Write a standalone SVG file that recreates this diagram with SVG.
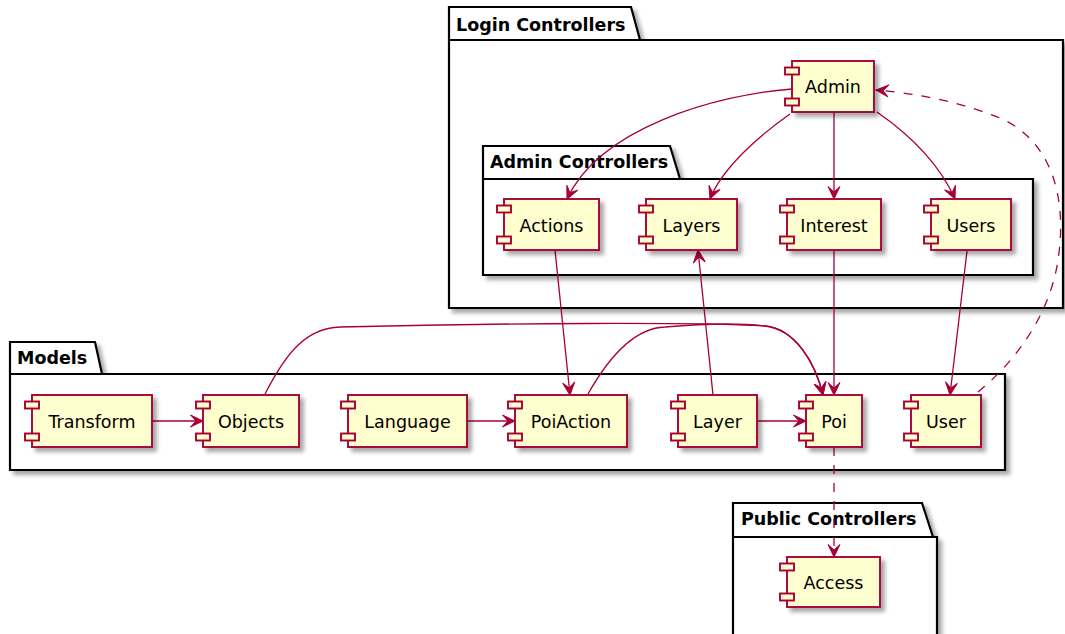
<svg xmlns="http://www.w3.org/2000/svg" width="1065" height="634" viewBox="0 0 1065 634">
<defs>
<style>
.pkg{fill:#FFFFFF;stroke:#000000;stroke-width:2.2;filter:url(#sh)}
.pkgl{fill:none;stroke:#000000;stroke-width:2.2}
.pt{font-family:"DejaVu Sans",Verdana,sans-serif;font-weight:bold;font-size:17.5px;fill:#000000}
.body{fill:#FEFECE;stroke:#A80036;stroke-width:1.9;filter:url(#sh)}
.nub{fill:#FEFECE;stroke:#A80036;stroke-width:1.9}
.nt{font-family:"DejaVu Sans",Verdana,sans-serif;font-size:17.5px;fill:#000000;text-anchor:middle}
.e{fill:none;stroke:#A80036;stroke-width:1.3;marker-end:url(#arr)}
.d{stroke-dasharray:9,9}
</style>
<filter id="sh" x="-10%" y="-10%" width="130%" height="140%">
<feGaussianBlur in="SourceAlpha" stdDeviation="2"/>
<feOffset dx="4" dy="4" result="o"/>
<feComponentTransfer><feFuncA type="linear" slope="0.35"/></feComponentTransfer>
<feMerge><feMergeNode/><feMergeNode in="SourceGraphic"/></feMerge>
</filter>
<marker id="arr" viewBox="-14 -7 15 14" refX="0" refY="0" markerWidth="15" markerHeight="14" markerUnits="userSpaceOnUse" orient="auto">
<path d="M0,0 L-12.5,-6 L-7,0 L-12.5,6 Z" fill="#A80036" stroke="#A80036" stroke-width="1"/>
</marker>
</defs>
<rect width="1065" height="634" fill="#FFFFFF"/>

<g id="pkg-login">
<path class="pkg" d="M449,7 L631,7 L640,40 L1063,40 L1063,308 L449,308 Z"/>
<line class="pkgl" x1="449" y1="40" x2="640" y2="40"/>
<text class="pt" x="456" y="31">Login Controllers</text>
</g>
<g id="pkg-admin">
<path class="pkg" d="M483,146 L670,146 L680,179 L1033,179 L1033,275 L483,275 Z"/>
<line class="pkgl" x1="483" y1="179" x2="680" y2="179"/>
<text class="pt" x="490" y="168">Admin Controllers</text>
</g>
<g id="pkg-models">
<path class="pkg" d="M10,342 L95,342 L102,374 L1005,374 L1005,470 L10,470 Z"/>
<line class="pkgl" x1="10" y1="374" x2="102" y2="374"/>
<text class="pt" x="17" y="364">Models</text>
</g>
<g id="pkg-public">
<path class="pkg" d="M733,503 L922,503 L933,537 L937,537 L937,650 L733,650 Z"/>
<line class="pkgl" x1="733" y1="537" x2="933" y2="537"/>
<text class="pt" x="741" y="525">Public Controllers</text>
</g>

<g id="connectors">
<path class="e" d="M792,89 C715,95 600,128 567,199"/>
<path class="e" d="M790,114 C760,135 722,168 710,199"/>
<path class="e" d="M834,112 L834,199"/>
<path class="e" d="M877,112 C910,135 940,165 955,199"/>
<path class="e" d="M555,250 L570,395"/>
<path class="e" d="M713,395 L698,250"/>
<path class="e" d="M834,250 L834,395"/>
<path class="e" d="M967,251 L950,395"/>
<path class="e d" d="M978,392 C1015,362 1050,315 1058,260 C1068,195 1050,140 1000,118 C960,102 915,93 876,90"/>
<path class="e" d="M265,394 C285,355 305,328 340,327 C500,323 700,322 765,326 C795,329 815,362 823,395"/>
<path class="e" d="M588,394 C610,355 635,328 665,327 C700,324 740,323 765,326 C795,329 815,362 823,395"/>
<path class="e" d="M152,421 L203,421"/>
<path class="e" d="M467,421 L515,421"/>
<path class="e" d="M757,421 L806,421"/>
<path class="e d" d="M834,447 L834,557"/>
</g>

<g id="Admin"><rect class="body" x="792" y="61" width="82" height="51"/><rect class="nub" x="785" y="67.5" width="14" height="7"/><rect class="nub" x="785" y="98.5" width="14" height="7"/><text class="nt" x="833" y="93">Admin</text></g>
<g id="Actions"><rect class="body" x="504" y="199" width="95" height="51"/><rect class="nub" x="497" y="205.5" width="14" height="7"/><rect class="nub" x="497" y="236.5" width="14" height="7"/><text class="nt" x="551.5" y="231.5">Actions</text></g>
<g id="Layers"><rect class="body" x="646" y="199" width="91" height="51"/><rect class="nub" x="639" y="205.5" width="14" height="7"/><rect class="nub" x="639" y="236.5" width="14" height="7"/><text class="nt" x="691.5" y="231.5">Layers</text></g>
<g id="Interest"><rect class="body" x="787" y="199" width="94" height="51"/><rect class="nub" x="780" y="205.5" width="14" height="7"/><rect class="nub" x="780" y="236.5" width="14" height="7"/><text class="nt" x="834" y="231.5">Interest</text></g>
<g id="Users"><rect class="body" x="931" y="199" width="80" height="51"/><rect class="nub" x="924" y="205.5" width="14" height="7"/><rect class="nub" x="924" y="236.5" width="14" height="7"/><text class="nt" x="971" y="231.5">Users</text></g>
<g id="Transform"><rect class="body" x="32" y="395" width="120" height="52"/><rect class="nub" x="25" y="401.5" width="14" height="7"/><rect class="nub" x="25" y="433.5" width="14" height="7"/><text class="nt" x="92" y="428">Transform</text></g>
<g id="Objects"><rect class="body" x="203" y="395" width="96" height="52"/><rect class="nub" x="196" y="401.5" width="14" height="7"/><rect class="nub" x="196" y="433.5" width="14" height="7"/><text class="nt" x="251" y="428">Objects</text></g>
<g id="Language"><rect class="body" x="348" y="395" width="119" height="52"/><rect class="nub" x="341" y="401.5" width="14" height="7"/><rect class="nub" x="341" y="433.5" width="14" height="7"/><text class="nt" x="407.5" y="428">Language</text></g>
<g id="PoiAction"><rect class="body" x="515" y="395" width="112" height="52"/><rect class="nub" x="508" y="401.5" width="14" height="7"/><rect class="nub" x="508" y="433.5" width="14" height="7"/><text class="nt" x="571" y="428">PoiAction</text></g>
<g id="Layer"><rect class="body" x="678" y="395" width="79" height="52"/><rect class="nub" x="671" y="401.5" width="14" height="7"/><rect class="nub" x="671" y="433.5" width="14" height="7"/><text class="nt" x="717.5" y="428">Layer</text></g>
<g id="Poi"><rect class="body" x="806" y="395" width="56" height="52"/><rect class="nub" x="799" y="401.5" width="14" height="7"/><rect class="nub" x="799" y="433.5" width="14" height="7"/><text class="nt" x="834" y="428">Poi</text></g>
<g id="User"><rect class="body" x="911" y="395" width="70" height="52"/><rect class="nub" x="904" y="401.5" width="14" height="7"/><rect class="nub" x="904" y="433.5" width="14" height="7"/><text class="nt" x="946" y="428">User</text></g>
<g id="Access"><rect class="body" x="787" y="557" width="93" height="50"/><rect class="nub" x="780" y="563.5" width="14" height="7"/><rect class="nub" x="780" y="593.5" width="14" height="7"/><text class="nt" x="833.5" y="589">Access</text></g>
</svg>
